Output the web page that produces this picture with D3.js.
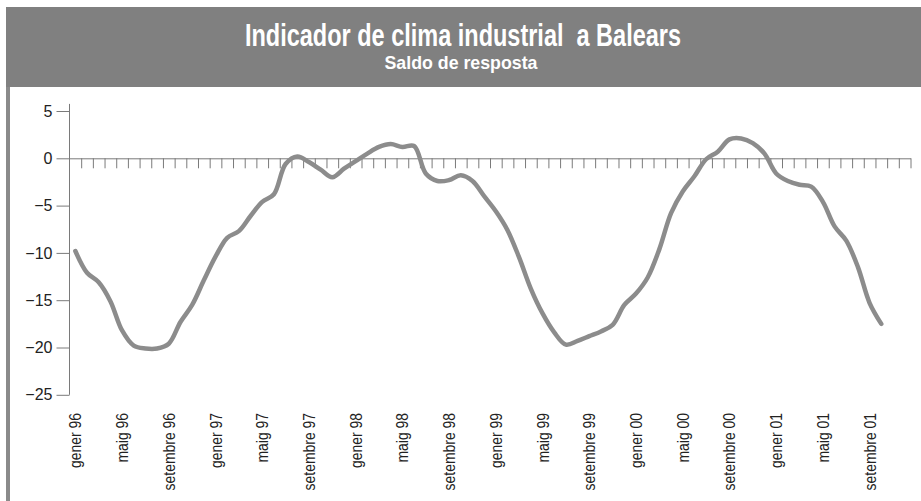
<!DOCTYPE html>
<html>
<head>
<meta charset="utf-8">
<script src="https://cdn.jsdelivr.net/npm/d3@7"></script>
<style>
  html, body { margin: 0; padding: 0; background: #fff; }
  svg { display: block; }
  text { font-family: "Liberation Sans", Arial, sans-serif; }
</style>
</head>
<body>
<div id="chart"></div>
<script>
// month names and years for the category axis
const monthNames = ["gener", "febrer", "març", "abril", "maig", "juny", "juliol", "agost", "setembre", "octubre", "novembre", "desembre"];
const years = ["96", "97", "98", "99", "00", "01"];
const yTicks = [5, 0, -5, -10, -15, -20, -25];

// saldo de resposta, gener 96 .. octubre 01
const values = [
  -9.8, -12.1, -13.1, -15.1, -18.2, -19.8, -20.1, -20.1, -19.6, -17.3, -15.5, -12.9,
  -10.4, -8.4, -7.7, -6.1, -4.6, -3.8, -0.6, 0.2, -0.4, -1.2, -2.0, -1.1,
  -0.3, 0.5, 1.2, 1.5, 1.2, 1.3, -1.6, -2.4, -2.3, -1.8, -2.4, -4.0,
  -5.6, -7.6, -10.5, -13.8, -16.4, -18.4, -19.7, -19.3, -18.8, -18.3, -17.6, -15.5,
  -14.3, -12.6, -9.6, -5.8, -3.5, -1.9, -0.1, 0.7, 2.0, 2.1, 1.6, 0.5,
  -1.6, -2.4, -2.8, -3.0, -4.6, -7.2, -8.7, -11.5, -15.3, -17.5
];

const categories = [];
years.forEach(yr => monthNames.forEach(m => categories.push(m + " " + yr)));
const shownLabels = categories.filter((c, i) => i % 4 === 0);

const width = 921, height = 501;
const svg = d3.select("#chart").append("svg")
  .attr("width", width)
  .attr("height", height);

// frame + title band
svg.append("rect")
  .attr("x", 6).attr("y", 7)
  .attr("width", width - 6).attr("height", 80)
  .attr("fill", "#808080");
svg.append("rect")
  .attr("x", 6).attr("y", 87)
  .attr("width", 4).attr("height", height - 87)
  .attr("fill", "#8a8a8a");

svg.append("text")
  .attr("x", 463).attr("y", 46)
  .attr("text-anchor", "middle")
  .attr("fill", "#fff")
  .attr("font-weight", "bold")
  .attr("font-size", 31)
  .attr("textLength", 436)
  .attr("lengthAdjust", "spacingAndGlyphs")
  .style("white-space", "pre")
  .text("Indicador de clima industrial  a Balears");

svg.append("text")
  .attr("x", 461).attr("y", 69)
  .attr("text-anchor", "middle")
  .attr("fill", "#fff")
  .attr("font-weight", "bold")
  .attr("font-size", 19)
  .attr("textLength", 153)
  .attr("lengthAdjust", "spacingAndGlyphs")
  .text("Saldo de resposta");

// scales
const x = d3.scaleBand()
  .domain(categories)
  .range([69.5, 910.5])
  .padding(0);

const y = d3.scaleLinear()
  .domain([-25, 5])
  .range([394.8, 111]);

const axisColor = "#7a7a7a";

// y axis
const yAxis = svg.append("g")
  .attr("transform", "translate(69.5,0)")
  .call(d3.axisLeft(y).tickValues(yTicks).tickSize(13).tickPadding(4).tickSizeOuter(0));
yAxis.select(".domain").remove();
yAxis.append("line")
  .attr("x1", 0).attr("x2", 0)
  .attr("y1", y(5.75)).attr("y2", y(-25))
  .attr("stroke", axisColor);
yAxis.selectAll(".tick line").attr("stroke", axisColor);
yAxis.selectAll(".tick text")
  .attr("fill", "#222")
  .attr("font-size", 16)
  .style("font-family", "'Liberation Sans', Arial, sans-serif");

// x axis at zero, ticks at category boundaries
const xb = d3.scaleLinear().domain([0, categories.length]).range(x.range());
const xAxis = svg.append("g")
  .attr("transform", `translate(0,${y(0)})`)
  .call(d3.axisBottom(xb).tickValues(d3.range(1, categories.length + 1)).tickFormat("").tickSizeInner(10).tickSizeOuter(0));
xAxis.select(".domain").attr("stroke", axisColor);
xAxis.selectAll(".tick line").attr("stroke", axisColor);

// rotated category labels (narrow look: squeeze along the text)
svg.append("g")
  .selectAll("text")
  .data(shownLabels)
  .join("text")
  .attr("transform", d => `translate(${x(d) + x.bandwidth() / 2 + 6},413) rotate(-90) scale(0.82,1)`)
  .attr("text-anchor", "end")
  .attr("fill", "#222")
  .attr("font-size", 17)
  .text(d => d);

// series line
const line = d3.line()
  .x((d, i) => x(categories[i]) + x.bandwidth() / 2)
  .y(d => y(d))
  .curve(d3.curveCatmullRom);

svg.append("path")
  .datum(values)
  .attr("d", line)
  .attr("fill", "none")
  .attr("stroke", "#8c8c8c")
  .attr("stroke-width", 4.5)
  .attr("stroke-linejoin", "round")
  .attr("stroke-linecap", "round");
</script>
</body>
</html>
